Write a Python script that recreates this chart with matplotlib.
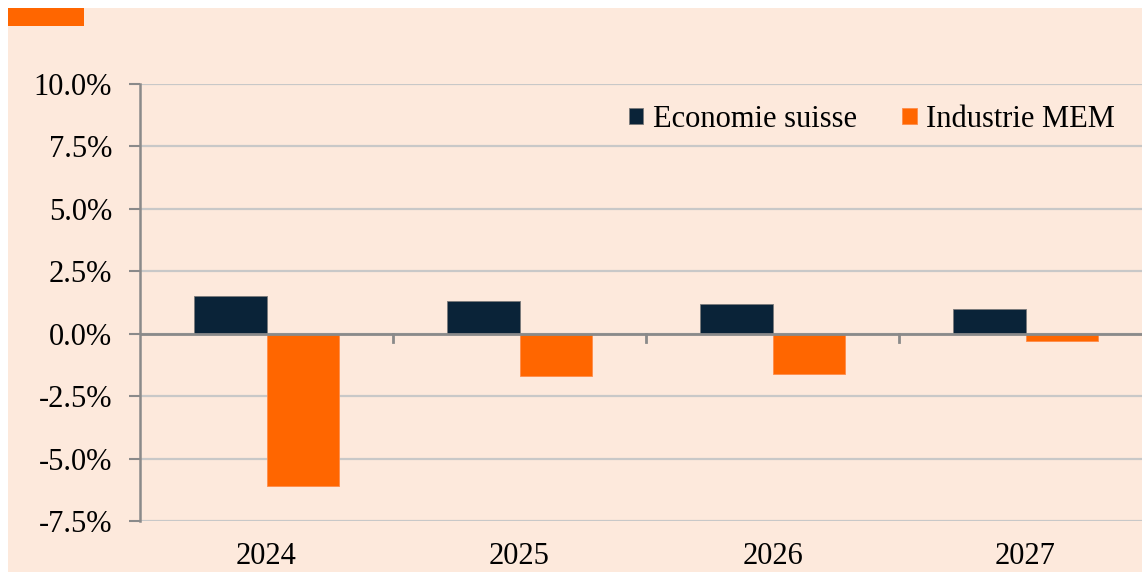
import numpy as np
import matplotlib.pyplot as plt
from matplotlib.patches import Rectangle

# Data
years = ['2024', '2025', '2026', '2027']
economie_suisse = [1.5, 1.3, 1.2, 1.0]
industrie_mem = [-6.1, -1.7, -1.6, -0.3]
y_ticks = [-7.5, -5.0, -2.5, 0.0, 2.5, 5.0, 7.5, 10.0]

# Colours
peach = '#fde9dc'
navy = '#0a2338'
orange = '#ff6600'

plt.rcParams['font.family'] = ['Liberation Serif', 'DejaVu Serif']

W, H = 1142, 572
fig = plt.figure(figsize=(W / 100, H / 100), dpi=100, facecolor='white')

# Peach panel and orange tab (behind the axes)
fig.patches.append(Rectangle((8 / W, 0), 1, 1 - 8 / H, transform=fig.transFigure,
                             facecolor=peach, edgecolor='none', zorder=-10))
fig.patches.append(Rectangle((8 / W, 1 - 26 / H), 76 / W, 18 / H, transform=fig.transFigure,
                             facecolor=orange, edgecolor='none', zorder=-9))

# Axes: left 140px, right 1152px, top 84px, bottom 521px
ax = fig.add_axes([140 / W, 1 - 521 / H, 1012 / W, 437 / H])
ax.set_facecolor('none')

x = np.arange(len(years))
bw = 0.285
ax.bar(x - bw / 2, economie_suisse, bw, color=navy, edgecolor='#7a7a7a', linewidth=0.6,
       label='Economie suisse', zorder=3)
ax.bar(x + bw / 2, industrie_mem, bw, color=orange, edgecolor='#ff8c4a', linewidth=0.6,
       label='Industrie MEM', zorder=3)

ax.set_xlim(-0.5, 3.5)
ax.set_ylim(-7.5, 10.0)
ax.set_yticks(y_ticks)
ax.set_yticklabels([f'{v:.1f}%' for v in y_ticks], fontsize=22)
ax.yaxis.grid(True, color='#c8c8c8', linewidth=1.6, zorder=1)
ax.set_axisbelow(True)

# Zero line (category axis) with tick marks between groups
ax.axhline(0, color='#8a8a8a', linewidth=2, zorder=4)
for b in [0.5, 1.5, 2.5]:
    ax.plot([b, b], [0, -0.32], color='#8a8a8a', linewidth=2, zorder=4, clip_on=False)

ax.set_xticks(x)
ax.set_xticklabels(years, fontsize=22)
ax.tick_params(axis='x', length=0, pad=15)
ax.tick_params(axis='y', length=8, width=1.5, color='#8a8a8a', pad=12)

for s in ['top', 'right', 'bottom']:
    ax.spines[s].set_visible(False)
ax.spines['left'].set_color('#8a8a8a')
ax.spines['left'].set_linewidth(1.8)

ax.legend(loc='upper right', bbox_to_anchor=(0.963, 0.952), ncol=2, frameon=False,
          fontsize=22, handlelength=0.46, handleheight=0.46, handletextpad=0.3,
          columnspacing=1.5, borderaxespad=0, borderpad=0)

fig.savefig('out.png', dpi=100, facecolor='white')
